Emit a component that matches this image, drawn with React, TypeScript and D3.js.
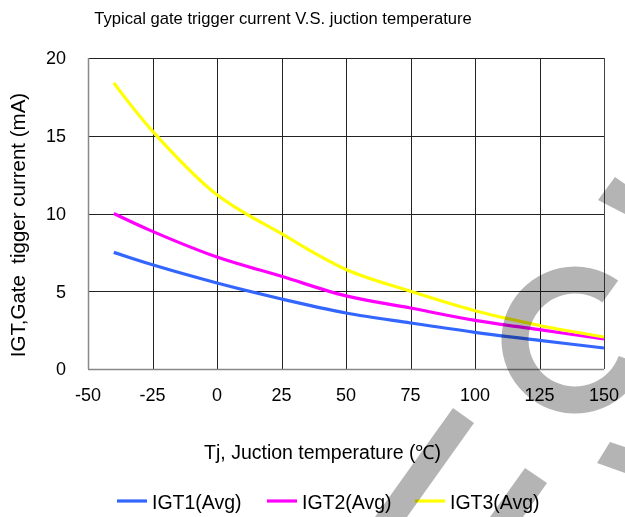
import * as d3 from "d3";

// Junction temperature (°C) sample points
const temps = [-40, -25, 0, 25, 50, 75, 100, 125, 150];

// Gate trigger current (mA)
const igt1 = [7.5, 6.7, 5.53, 4.5, 3.6, 2.96, 2.36, 1.84, 1.35];
const igt2 = [10.0, 8.85, 7.2, 5.96, 4.7, 3.92, 3.13, 2.53, 1.93];
const igt3 = [18.4, 15.3, 11.2, 8.7, 6.4, 5.0, 3.75, 2.8, 2.06];

const xTicks = [-50, -25, 0, 25, 50, 75, 100, 125, 150];
const yTicks = [0, 5, 10, 15, 20];

const seriesNames = ["IGT1(Avg)", "IGT2(Avg)", "IGT3(Avg)"];
const seriesColors = ["#3366ff", "#ff00ff", "#ffff00"];

const width = 625;
const height = 517;
const margin = { top: 58, right: 21, bottom: 148, left: 88 };
const font = "'Liberation Sans', Arial, sans-serif";

export default function App() {
  const x = d3
    .scaleLinear()
    .domain([-50, 150])
    .range([margin.left, width - margin.right]);
  const y = d3
    .scaleLinear()
    .domain([0, 20])
    .range([height - margin.bottom, margin.top]);

  const line = d3
    .line<number>()
    .x((_, i) => x(temps[i]))
    .y((d) => y(d))
    .curve(d3.curveCatmullRom.alpha(0.5));

  const series = [igt1, igt2, igt3];
  const legendX = [117, 267, 415];

  // watermark stroke on top of the chart
  const ring = d3
    .arc()
    .innerRadius(46.5)
    .outerRadius(73.5)
    .startAngle((110 * Math.PI) / 180)
    .endAngle((396 * Math.PI) / 180);

  return (
    <svg
      width={width}
      height={height}
      style={{ position: "absolute", left: 0, top: 0, background: "#fff" }}
    >
      <text
        x={283}
        y={24}
        textAnchor="middle"
        fontFamily={font}
        fontSize={16.6}
        fill="#000"
      >
        Typical gate trigger current V.S. juction temperature
      </text>

      {/* grid */}
      {xTicks.slice(1, -1).map((t) => (
        <line
          key={"gx" + t}
          x1={Math.round(x(t)) + 0.5}
          x2={Math.round(x(t)) + 0.5}
          y1={y(20)}
          y2={y(0)}
          stroke="#222"
          strokeWidth={1}
        />
      ))}
      {yTicks.slice(1).map((t) => (
        <line
          key={"gy" + t}
          x1={x(-50)}
          x2={x(150)}
          y1={Math.round(y(t)) + 0.5}
          y2={Math.round(y(t)) + 0.5}
          stroke="#222"
          strokeWidth={1}
        />
      ))}
      <line
        x1={x(150) + 0.5}
        x2={x(150) + 0.5}
        y1={y(20)}
        y2={y(0)}
        stroke="#444"
      />
      <line
        x1={x(-50)}
        x2={x(150)}
        y1={Math.round(y(0)) + 0.5}
        y2={Math.round(y(0)) + 0.5}
        stroke="#888"
        strokeWidth={1.5}
      />
      <line
        x1={Math.round(x(-50)) + 0.5}
        x2={Math.round(x(-50)) + 0.5}
        y1={y(20)}
        y2={y(0)}
        stroke="#888"
        strokeWidth={1.5}
      />

      {/* tick labels */}
      {yTicks.map((t) => (
        <text
          key={"ty" + t}
          x={66}
          y={y(t)}
          dy="0.36em"
          textAnchor="end"
          fontFamily={font}
          fontSize={18}
        >
          {t}
        </text>
      ))}
      {xTicks.map((t) => (
        <text
          key={"tx" + t}
          x={x(t)}
          y={401}
          textAnchor="middle"
          fontFamily={font}
          fontSize={18}
        >
          {t}
        </text>
      ))}

      {/* axis titles */}
      <text
        x={322.5}
        y={459}
        textAnchor="middle"
        fontFamily={font}
        fontSize={19.5}
      >
        Tj, Juction temperature (℃)
      </text>
      <text
        transform={`translate(25, 225) rotate(-90)`}
        textAnchor="middle"
        fontFamily={font}
        fontSize={20.5}
        style={{ whiteSpace: "pre" }}
      >
        {"IGT,Gate  tigger current (mA)"}
      </text>

      {/* curves */}
      {series.map((s, i) => (
        <path
          key={seriesNames[i]}
          d={line(s) || ""}
          fill="none"
          stroke={seriesColors[i]}
          strokeWidth={3.2}
        />
      ))}

      {/* legend */}
      {seriesNames.map((n, i) => (
        <g key={"lg" + n}>
          <line
            x1={legendX[i]}
            x2={legendX[i] + 30}
            y1={501}
            y2={501}
            stroke={seriesColors[i]}
            strokeWidth={3.2}
          />
          <text
            x={legendX[i] + 35}
            y={509}
            fontFamily={font}
            fontSize={19.5}
          >
            {n}
          </text>
        </g>
      ))}

      {/* grey watermark */}
      <g fill="#b4b4b4" style={{ mixBlendMode: "multiply" }}>
        <path d={ring(null as any) || ""} transform="translate(575,340)" />
        <polygon points="453,408 474,423 407,517 375,517" />
        <polygon points="525,468 547,483 523,517 490,517" />
        <polygon points="598,200 615,177 625,184 625,214" />
        <polygon points="610,442 625,447 625,473 597,463" />
      </g>
    </svg>
  );
}
